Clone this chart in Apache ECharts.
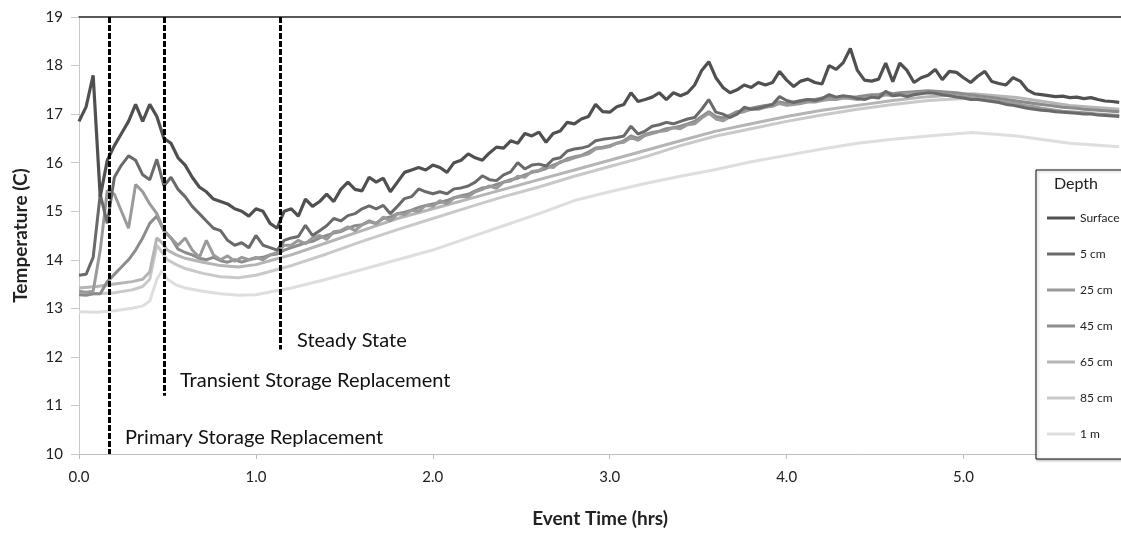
<!DOCTYPE html>
<html>
<head>
<meta charset="utf-8">
<script src="https://cdn.jsdelivr.net/npm/echarts@6/dist/echarts.min.js"></script>
<style>
  html, body { margin: 0; padding: 0; background: #fff; }
  #chart { width: 1121px; height: 533px; }
</style>
</head>
<body>
<div id="chart"></div>
<script>
// readings every 0.04 hr for the four shallow probes
const step = 0.04;

const surface = [
  16.85, 17.15, 17.8, 15.3, 16.05, 16.35, 16.6, 16.85, 17.2, 16.85,
  17.2, 16.95, 16.5, 16.4, 16.1, 15.95, 15.7, 15.5, 15.4, 15.25,
  15.2, 15.15, 15.05, 15.0, 14.9, 15.05, 15.0, 14.75, 14.65, 15.0,
  15.05, 14.9, 15.25, 15.1, 15.2, 15.35, 15.2, 15.45, 15.6, 15.45,
  15.42, 15.7, 15.6, 15.68, 15.4, 15.6, 15.8, 15.85, 15.9, 15.85,
  15.95, 15.9, 15.8, 16.0, 16.05, 16.18, 16.1, 16.05, 16.2, 16.32,
  16.3, 16.45, 16.4, 16.6, 16.55, 16.63, 16.42, 16.6, 16.65, 16.83,
  16.8, 16.9, 16.95, 17.2, 17.05, 17.04, 17.15, 17.2, 17.44, 17.26,
  17.3, 17.35, 17.44, 17.3, 17.44, 17.38, 17.44, 17.6, 17.9, 18.08,
  17.75, 17.55, 17.44, 17.5, 17.6, 17.55, 17.65, 17.6, 17.65, 17.88,
  17.7, 17.57, 17.68, 17.72, 17.65, 17.62, 18.0, 17.92, 18.06, 18.35,
  17.9, 17.7, 17.68, 17.72, 18.05, 17.67, 18.05, 17.9, 17.65, 17.75,
  17.8, 17.92, 17.71, 17.88, 17.86, 17.75, 17.65, 17.78, 17.88, 17.67,
  17.63, 17.6, 17.75, 17.68, 17.5, 17.42, 17.4, 17.38, 17.36, 17.37,
  17.34, 17.35, 17.32, 17.34, 17.3, 17.27, 17.26, 17.24
];

const cm5 = [
  13.68, 13.7, 14.05, 15.35, 14.75, 15.7, 15.95, 16.14, 16.05, 15.75,
  15.65, 16.07, 15.52, 15.7, 15.45, 15.3, 15.1, 14.95, 14.8, 14.65,
  14.6, 14.4, 14.3, 14.35, 14.25, 14.5, 14.3, 14.25, 14.2, 14.4,
  14.45, 14.48, 14.71, 14.5, 14.6, 14.7, 14.85, 14.8, 14.91, 14.95,
  15.05, 15.11, 15.05, 15.12, 14.95, 15.1, 15.26, 15.3, 15.46, 15.4,
  15.36, 15.4, 15.36, 15.46, 15.48, 15.52, 15.6, 15.73, 15.65, 15.63,
  15.75, 15.81, 16.0, 15.87, 15.95, 15.97, 15.93, 16.07, 16.1, 16.24,
  16.28, 16.3, 16.34, 16.45, 16.48, 16.5, 16.52, 16.55, 16.75, 16.59,
  16.65, 16.75, 16.78, 16.83, 16.8, 16.85, 16.9, 16.93, 17.1, 17.3,
  17.04, 17.0, 16.93, 17.0, 17.14, 17.1, 17.12, 17.16, 17.2, 17.36,
  17.28, 17.24, 17.27, 17.3, 17.28, 17.32, 17.4, 17.35, 17.38, 17.36,
  17.32, 17.3, 17.35, 17.33, 17.47, 17.38, 17.4, 17.36, 17.4, 17.42,
  17.44, 17.43, 17.4, 17.38, 17.35, 17.33, 17.3, 17.3, 17.28, 17.26,
  17.24, 17.2, 17.18, 17.15, 17.12, 17.1, 17.08, 17.07, 17.05, 17.04,
  17.03, 17.02, 17.0, 17.0, 16.98, 16.97, 16.96, 16.95
];

const cm25 = [
  13.35, 13.33, 13.35, 14.2, 15.43, 15.35, 15.0, 14.65, 15.55, 15.4,
  15.15, 14.95, 14.6, 14.45, 14.3, 14.45, 14.2, 14.05, 14.4, 14.1,
  14.0, 14.08, 13.97, 14.05, 14.0, 14.05, 14.0, 14.1, 14.15, 14.3,
  14.3, 14.4, 14.33, 14.45, 14.5, 14.42, 14.58, 14.6, 14.68, 14.6,
  14.72, 14.78, 14.74, 14.88, 14.8, 14.95, 14.93, 15.02, 15.0, 15.12,
  15.1, 15.22, 15.15, 15.27, 15.3, 15.3, 15.4, 15.45, 15.52, 15.47,
  15.6, 15.62, 15.72, 15.7, 15.82, 15.84, 15.92, 15.9, 16.02, 16.05,
  16.1, 16.14, 16.18, 16.28, 16.3, 16.33, 16.4, 16.42, 16.52, 16.46,
  16.56, 16.6, 16.64, 16.66, 16.72, 16.7, 16.78, 16.8, 16.92, 17.02,
  16.9, 16.86, 16.94, 17.02, 17.05, 17.1, 17.1, 17.14, 17.16, 17.22,
  17.18, 17.2, 17.22, 17.25, 17.25, 17.28, 17.3, 17.3, 17.33, 17.32,
  17.3, 17.33, 17.35, 17.36, 17.4, 17.38, 17.4, 17.42, 17.43, 17.44,
  17.45, 17.44, 17.42, 17.4, 17.38, 17.36, 17.34, 17.32, 17.3, 17.28,
  17.26, 17.24, 17.22, 17.2, 17.17, 17.15, 17.12, 17.1, 17.08, 17.06,
  17.05, 17.04, 17.03, 17.02, 17.0, 16.99, 16.98, 16.97
];

const cm45 = [
  13.28, 13.27, 13.3, 13.3, 13.55, 13.7, 13.85, 14.0, 14.2, 14.45,
  14.75, 14.9, 14.6, 14.45, 14.22, 14.15, 14.1, 14.03, 14.0, 14.05,
  13.98, 13.95, 14.0, 13.95, 14.0, 14.03, 14.05, 14.1, 14.12, 14.2,
  14.25, 14.3, 14.35, 14.38, 14.45, 14.5, 14.55, 14.58, 14.65, 14.7,
  14.72, 14.8, 14.75, 14.85, 14.88, 14.95, 14.98, 15.02, 15.08, 15.12,
  15.15, 15.18, 15.22, 15.28, 15.32, 15.35, 15.42, 15.48, 15.5, 15.55,
  15.6, 15.65, 15.68, 15.75, 15.8, 15.83, 15.88, 15.95, 16.0, 16.08,
  16.12, 16.15, 16.22, 16.3, 16.32, 16.35, 16.4, 16.45, 16.55, 16.5,
  16.58, 16.62, 16.65, 16.7, 16.72, 16.75, 16.8, 16.85, 16.95, 17.05,
  16.95, 16.92, 16.98, 17.05, 17.08, 17.12, 17.15, 17.18, 17.2, 17.25,
  17.22, 17.25, 17.28, 17.3, 17.3, 17.33, 17.35, 17.34, 17.36, 17.35,
  17.36, 17.38, 17.4, 17.4, 17.45, 17.42, 17.44, 17.45, 17.46, 17.47,
  17.48, 17.47, 17.46, 17.45, 17.44, 17.42, 17.4, 17.38, 17.36, 17.34,
  17.32, 17.3, 17.28, 17.26, 17.24, 17.22, 17.2, 17.18, 17.16, 17.14,
  17.13, 17.12, 17.1, 17.09, 17.08, 17.07, 17.06, 17.05
];

// deeper probes are smooth, read at these times
const hoursDeep = [0, 0.1, 0.2, 0.3, 0.36, 0.4, 0.44, 0.47, 0.5, 0.55, 0.6, 0.7, 0.8, 0.9, 1.0, 1.1, 1.2,
  1.4, 1.6, 1.8, 2.0, 2.2, 2.4, 2.6, 2.8, 3.0, 3.2, 3.4, 3.6, 3.8, 4.0, 4.2, 4.4, 4.6, 4.8, 5.05, 5.3, 5.6, 5.88];

const cm65 = [13.42, 13.45, 13.5, 13.55, 13.6, 13.75, 14.45, 14.35, 14.2, 14.1, 14.03, 13.95, 13.88, 13.85, 13.9, 14.0, 14.1,
  14.35, 14.6, 14.85, 15.05, 15.25, 15.45, 15.65, 15.85, 16.05, 16.25, 16.45, 16.65, 16.8, 16.95, 17.08, 17.18, 17.28, 17.36, 17.42, 17.34, 17.18, 17.1];
const cm85 = [13.3, 13.3, 13.32, 13.38, 13.45, 13.6, 14.3, 14.15, 14.0, 13.9, 13.82, 13.72, 13.65, 13.63, 13.68, 13.78, 13.88,
  14.12, 14.38, 14.62, 14.85, 15.08, 15.3, 15.5, 15.72, 15.92, 16.12, 16.35, 16.55, 16.7, 16.85, 16.98, 17.1, 17.2, 17.28, 17.33, 17.26, 17.14, 17.06];
const m1 = [12.93, 12.92, 12.95, 13.0, 13.05, 13.15, 13.6, 13.78, 13.6, 13.48, 13.42, 13.35, 13.3, 13.27, 13.28, 13.35, 13.42,
  13.6, 13.8, 14.0, 14.2, 14.45, 14.7, 14.95, 15.22, 15.4, 15.57, 15.72, 15.86, 16.02, 16.15, 16.28, 16.4, 16.48, 16.55, 16.62, 16.55, 16.4, 16.33];

const depthNames = ['Surface', '5 cm', '25 cm', '45 cm', '65 cm', '85 cm', '1 m'];

// dashed event markers: time and how far down they reach
const eventTimes = [0.17, 0.48, 1.14];
const eventBottoms = [10, 11.2, 12.15];

const font = 'Lato, "Open Sans", sans-serif';

function shallow(vals) {
  return vals.map((v, i) => [+(i * step).toFixed(2), v]);
}
function deep(vals) {
  return vals.map((v, i) => [hoursDeep[i], v]);
}

const chart = echarts.init(document.getElementById('chart'));

const defs = [
  { name: '1 m', data: deep(m1), color: '#dedede', w: 3 },
  { name: '85 cm', data: deep(cm85), color: '#c9c9c9', w: 3 },
  { name: '65 cm', data: deep(cm65), color: '#b5b5b5', w: 3 },
  { name: '45 cm', data: shallow(cm45), color: '#8c8c8c', w: 3 },
  { name: '25 cm', data: shallow(cm25), color: '#9a9a9a', w: 3 },
  { name: '5 cm', data: shallow(cm5), color: '#6a6a6a', w: 3 },
  { name: 'Surface', data: shallow(surface), color: '#505050', w: 3.2 }
];

const series = defs.map(d => ({
  name: d.name,
  type: 'line',
  data: d.data,
  showSymbol: false,
  symbol: 'none',
  color: d.color,
  lineStyle: { color: d.color, width: d.w },
  z: 2
}));

series.push({
  name: 'events',
  type: 'line',
  data: [],
  markLine: {
    silent: true,
    symbol: 'none',
    label: { show: false },
    lineStyle: { color: '#000', width: 3, type: [6, 2] },
    data: eventTimes.map((t, i) => [{ coord: [t, 19] }, { coord: [t, eventBottoms[i]] }])
  },
  z: 5
});

chart.setOption({
  animation: false,
  grid: { left: 79, right: 0, top: 17, bottom: 71 },
  xAxis: [{
    type: 'value',
    min: 0,
    max: 5.89,
    interval: 1,
    name: 'Event Time (hrs)',
    nameLocation: 'middle',
    nameGap: 55,
    nameTextStyle: { fontFamily: font, fontSize: 19, fontWeight: 'bold', color: '#222' },
    axisLine: { show: true, lineStyle: { color: '#bdbdbd', width: 1 } },
    axisTick: { show: true, length: 5, lineStyle: { color: '#bdbdbd' } },
    axisLabel: { margin: 16, fontFamily: font, fontSize: 15, color: '#222', showMaxLabel: false,
      formatter: v => v.toFixed(1) },
    splitLine: { show: false }
  }, {
    type: 'value',
    position: 'top',
    min: 0,
    max: 5.89,
    axisLine: { show: true, onZero: false, lineStyle: { color: '#222', width: 1.5 } },
    axisTick: { show: false },
    axisLabel: { show: false },
    splitLine: { show: false }
  }],
  yAxis: {
    type: 'value',
    min: 10,
    max: 19,
    interval: 1,
    name: 'Temperature (C)',
    nameLocation: 'middle',
    nameGap: 49,
    nameTextStyle: { fontFamily: font, fontSize: 19, fontWeight: 'bold', color: '#222' },
    axisLine: { show: true, lineStyle: { color: '#c8c8c8', width: 1 } },
    axisTick: { show: true, length: 8, lineStyle: { color: '#c8c8c8' } },
    axisLabel: { margin: 16, fontFamily: font, fontSize: 15, color: '#222' },
    splitLine: { show: false }
  },
  legend: {
    data: depthNames,
    orient: 'vertical',
    left: 1042,
    top: 207,
    itemWidth: 28,
    itemHeight: 3,
    itemGap: 24,
    icon: 'rect',
    textStyle: { fontFamily: font, fontSize: 12, color: '#222' },
    z: 10
  },
  graphic: [
    {
      type: 'rect',
      z: 8,
      shape: { x: 1036, y: 170, width: 100, height: 289 },
      style: { fill: '#fff', stroke: '#111', lineWidth: 1, shadowBlur: 3, shadowColor: 'rgba(0,0,0,0.3)', shadowOffsetX: 1, shadowOffsetY: 1 }
    },
    {
      type: 'text', z: 9, left: 1054, top: 176,
      style: { text: 'Depth', font: '16px ' + font, fill: '#222' }
    },
    {
      type: 'text', z: 9, left: 297, top: 331,
      style: { text: 'Steady State', font: '20px ' + font, fill: '#111' }
    },
    {
      type: 'text', z: 9, left: 180, top: 371,
      style: { text: 'Transient Storage Replacement', font: '20px ' + font, fill: '#111' }
    },
    {
      type: 'text', z: 9, left: 125, top: 428,
      style: { text: 'Primary Storage Replacement', font: '20px ' + font, fill: '#111' }
    }
  ],
  series: series
});
</script>
</body>
</html>
